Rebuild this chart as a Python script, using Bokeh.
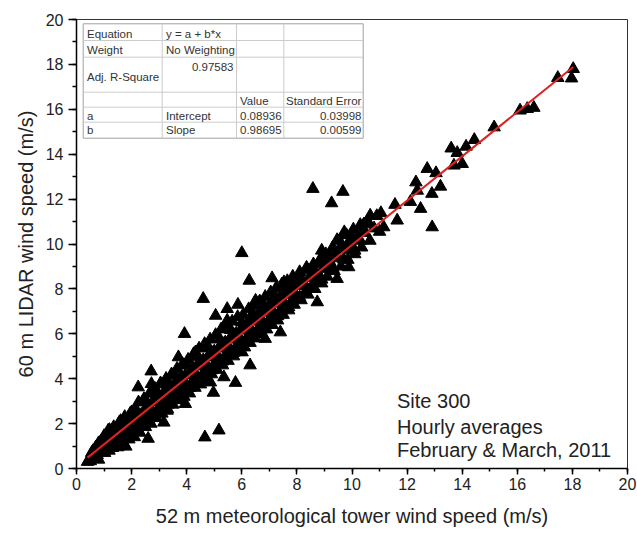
from bokeh.plotting import figure
from bokeh.models import Range1d, SingleIntervalTicker
from bokeh.core.properties import value
from bokeh.embed import file_html
from bokeh.resources import INLINE

# ---------------- data ----------------
met_speed = [
    0.40, 0.45, 0.55, 0.60, 0.70, 0.75, 0.80, 0.88, 0.92, 1.00, 1.02, 1.10, 1.15, 1.18, 1.25,
    1.30, 1.35, 1.40, 1.45, 1.50, 1.55, 1.60, 1.65, 1.70, 1.75, 1.80, 1.85, 1.90, 1.95, 2.00,
    2.05, 2.10, 2.15, 2.20, 2.25, 2.30, 2.35, 2.40, 2.45, 2.50, 2.55, 2.60, 2.65, 2.70, 2.75,
    2.80, 2.85, 2.90, 2.95, 3.00, 3.05, 3.10, 3.15, 3.20, 3.25, 3.30, 3.35, 3.40, 3.45, 3.50,
    3.55, 3.60, 3.65, 3.70, 3.75, 3.80, 3.85, 3.90, 3.95, 4.00,
    4.05, 4.10, 4.15, 4.20, 4.25, 4.30, 4.35, 4.40, 4.45, 4.50, 4.55, 4.60, 4.65, 4.70, 4.75,
    4.80, 4.85, 4.90, 4.95, 5.00, 5.05, 5.10, 5.15, 5.20, 5.25, 5.30, 5.35, 5.40, 5.45, 5.50,
    5.55, 5.60, 5.65, 5.70, 5.75, 5.80, 5.85, 5.90, 5.95, 6.00,
    6.05, 6.10, 6.15, 6.20, 6.25, 6.30, 6.35, 6.40, 6.45, 6.50, 6.55, 6.60, 6.65, 6.70, 6.75,
    6.80, 6.85, 6.90, 6.95, 7.00, 7.05, 7.10, 7.15, 7.20, 7.25, 7.30, 7.35, 7.40, 7.45, 7.50,
    7.55, 7.60, 7.65, 7.70, 7.75, 7.80, 7.85, 7.90, 7.95, 8.00,
    8.10, 8.15, 8.20, 8.30, 8.35, 8.40, 8.45, 8.55, 8.60, 8.65, 8.70, 8.80, 8.85, 8.90, 8.95,
    9.05, 9.10, 9.20, 9.30, 9.35, 9.45, 9.55, 9.60, 9.70, 9.80, 9.85, 9.95, 10.05, 10.10, 10.20,
    10.30, 10.35, 10.45, 10.60, 10.65, 10.80, 10.90, 11.00,
    0.5, 0.6, 0.7, 0.8, 0.9, 1.0, 1.1, 1.2, 1.3, 1.4, 1.5, 1.6, 1.7, 1.8, 1.9,
    2.0, 2.1, 2.2, 2.3, 2.4, 2.5, 2.6, 2.7, 2.8, 2.9, 3.0, 3.1, 3.2, 3.3, 3.4,
    3.5, 3.6, 3.7, 3.8, 3.9, 4.0, 4.1, 4.2, 4.3, 4.4, 4.5, 4.6, 4.7, 4.8, 4.9,
    5.0, 5.1, 5.2, 5.3, 5.4, 5.5, 5.6, 5.7, 5.8, 5.9, 6.0, 6.1, 6.2, 6.3, 6.4,
    6.5, 6.6, 6.7, 6.8, 6.9, 7.0, 7.1, 7.2, 7.3, 7.4, 7.5, 7.6, 7.7, 7.8, 7.9,
    8.0, 8.1, 8.2, 8.3, 8.4, 8.5, 8.6, 8.7, 8.8, 8.9, 9.0, 9.1, 9.2, 9.3, 9.4,
    9.5, 9.6, 9.7, 9.8, 9.9, 10.0, 10.1, 10.2, 10.3, 10.4,
    8.58, 9.67, 9.26, 12.91, 18.03, 17.97, 17.47, 16.60, 16.36, 16.10, 15.16, 14.44, 14.14, 13.60,
    13.82, 13.70, 14.00, 12.73, 13.05, 13.21, 12.90, 12.32, 12.37, 12.49, 12.12, 11.56, 11.05,
    10.66, 10.43, 11.64, 11.15, 9.72, 9.46, 8.90,
    6.00, 6.27, 7.10, 7.53, 7.89, 6.50, 5.86, 5.47, 5.05, 5.47, 4.60, 3.92, 3.70, 2.71, 2.72,
    2.24, 1.15, 4.32,
    8.74, 7.40, 6.85, 6.01, 6.30, 5.77, 5.35, 4.97, 4.86, 4.66, 5.17, 2.60, 1.79, 3.17, 3.95,
    9.88, 9.46, 3.29,
]
lidar_speed = [
    0.30, 0.38, 0.70, 0.45, 0.95, 0.60, 0.40, 1.20, 0.85, 1.45, 0.70, 1.05, 1.60, 0.80, 1.30,
    0.95, 1.85, 1.10, 1.55, 0.95, 2.05, 1.35, 1.80, 1.15, 2.30, 1.55, 2.00, 1.30, 2.45, 1.75,
    2.15, 1.40, 2.65, 1.85, 2.95, 1.60, 2.40, 2.05, 3.10, 1.85, 2.70, 2.25, 3.35, 2.00, 2.95,
    2.45, 3.55, 2.25, 3.15, 2.70, 3.80, 2.45, 3.35, 2.90, 4.00, 2.65, 3.55, 3.10, 4.20, 2.85,
    3.75, 3.30, 4.45, 3.05, 3.95, 3.50, 4.65, 3.20, 4.15, 3.70,
    4.85, 3.35, 4.30, 3.85, 5.10, 3.60, 4.55, 4.05, 5.35, 3.75, 4.75, 4.25, 5.55, 3.95, 4.95,
    4.45, 5.75, 4.20, 5.15, 4.65, 5.95, 4.40, 5.35, 4.85, 6.20, 4.60, 5.55, 5.05, 6.35, 4.80,
    5.75, 5.25, 6.55, 5.00, 5.95, 5.45, 6.75, 5.20, 6.15, 5.65,
    6.85, 5.40, 6.35, 5.85, 7.10, 5.60, 6.55, 6.05, 7.25, 5.80, 6.75, 6.25, 7.45, 6.00, 6.95,
    6.45, 7.65, 6.20, 7.15, 6.65, 7.85, 6.40, 7.35, 6.85, 8.05, 6.60, 7.55, 7.05, 8.20, 6.85,
    7.75, 7.25, 8.35, 7.05, 7.95, 7.45, 8.55, 7.30, 8.15, 7.65,
    8.75, 7.50, 8.30, 7.85, 8.95, 7.75, 8.50, 8.10, 9.10, 8.00, 8.70, 8.35, 9.30, 8.25, 8.90,
    9.55, 8.55, 9.20, 9.85, 8.80, 9.50, 10.15, 9.00, 9.75, 10.40, 9.30, 10.00, 10.65, 9.55, 10.25,
    10.85, 9.85, 10.50, 10.95, 10.15, 10.70, 11.25, 10.55,
    0.33, 0.78, 0.73, 1.13, 0.73, 1.28, 1.02, 1.72, 0.92, 1.67, 1.42, 2.12, 1.32, 2.07, 1.81,
    2.51, 1.66, 2.46, 2.21, 2.96, 2.06, 2.86, 2.60, 3.35, 2.45, 3.25, 3.00, 3.75, 2.85, 3.65,
    3.39, 4.14, 3.24, 4.04, 3.79, 4.59, 3.59, 4.43, 4.18, 4.98, 3.98, 4.83, 4.58, 5.38, 4.38,
    5.22, 4.97, 5.77, 4.77, 5.62, 5.37, 6.17, 5.16, 6.01, 5.76, 6.51, 5.61, 6.41, 6.16, 6.91,
    6.00, 6.80, 6.55, 7.30, 6.40, 7.20, 6.95, 7.70, 6.79, 7.59, 7.34, 8.09, 7.19, 7.99, 7.74,
    8.43, 7.63, 8.38, 8.13, 8.83, 8.03, 8.78, 8.53, 9.22, 8.42, 9.17, 8.92, 9.52, 8.92, 9.52,
    9.37, 9.91, 9.31, 9.91, 9.76, 10.31, 9.71, 10.31, 10.15, 10.70,
    12.46, 12.33, 11.82, 10.75, 17.80, 17.38, 17.40, 16.07, 16.02, 15.95, 15.20, 14.64, 14.34, 14.26,
    14.06, 13.50, 13.57, 13.35, 13.16, 12.56, 12.24, 12.75, 12.38, 11.57, 11.88, 11.75, 11.38,
    11.27, 10.88, 11.05, 10.75, 10.53, 10.18, 9.71,
    9.60, 8.37, 8.48, 8.30, 8.37, 7.48, 7.30, 7.11, 6.81, 6.59, 7.56, 6.00, 4.96, 4.33, 3.77,
    3.62, 1.69, 5.18,
    7.41, 6.07, 5.78, 5.18, 4.60, 3.82, 4.07, 3.38, 3.84, 1.39, 1.70, 1.33, 0.98, 2.05, 2.88,
    8.97, 8.45, 2.58,
]

fit_intercept = 0.08936
fit_slope = 0.98695

table_rows = [
    ["Equation", "y = a + b*x", "", ""],
    ["Weight", "No Weighting", "", ""],
    ["Adj. R-Square", "0.97583", "", ""],
    ["", "", "Value", "Standard Error"],
    ["a", "Intercept", "0.08936", "0.03998"],
    ["b", "Slope", "0.98695", "0.00599"],
]

note_lines = ["Site 300", "Hourly averages", "February & March, 2011"]

x_label = "52 m meteorological tower wind speed (m/s)"
y_label = "60 m LIDAR wind speed (m/s)"

# ---------------- layout helpers (screen px -> data) ----------------
FL, FR, FT, FB = 76, 627, 19, 468
def sx(px):
    return (px - FL) / (FR - FL) * 20.0
def sy(py):
    return (FB - py) / (FB - FT) * 20.0

FONT = "Liberation Sans"

p = figure(width=637, height=535, x_range=Range1d(0, 20), y_range=Range1d(0, 20),
           output_backend="svg", toolbar_location=None, title=None,
           min_border_left=FL, min_border_right=637 - FR, min_border_top=FT,
           min_border_bottom=535 - FB)
p.xgrid.visible = False
p.ygrid.visible = False
p.background_fill_color = "white"
p.border_fill_color = "white"
p.outline_line_color = "#333333"
p.outline_line_width = 1

for ax, tout, mout in ((p.xaxis[0], 6, 3), (p.yaxis[0], 8, 4)):
    ax.ticker = SingleIntervalTicker(interval=2, num_minor_ticks=2)
    ax.axis_line_color = "black"
    ax.axis_line_width = 1.5
    ax.major_tick_line_color = "black"
    ax.major_tick_line_width = 1.5
    ax.minor_tick_line_color = "black"
    ax.minor_tick_line_width = 1.5
    ax.major_tick_out = tout
    ax.major_tick_in = 0
    ax.minor_tick_out = mout
    ax.minor_tick_in = 0
    ax.major_label_text_font = FONT
    ax.major_label_text_font_size = "16px"
    ax.major_label_text_color = "#222222"
    ax.axis_label_text_font = FONT
    ax.axis_label_text_font_size = "20px"
    ax.axis_label_text_font_style = "normal"
    ax.axis_label_text_color = "#222222"

p.xaxis.axis_label = x_label
p.yaxis.axis_label = y_label
p.xaxis.major_label_standoff = 3
p.xaxis.axis_label_standoff = 12
p.yaxis.major_label_standoff = 5
p.yaxis.axis_label_standoff = 6

# scatter
p.scatter(met_speed, lidar_speed, marker="triangle", size=12.5,
          fill_color="black", line_color="black")

# fitted line
x0, x1 = min(met_speed), max(met_speed)
p.line([x0, x1], [fit_intercept + fit_slope * x0, fit_intercept + fit_slope * x1],
       line_color="#dd2222", line_width=2)

# results table
tx = [82.7, 161.7, 236.0, 283.3, 362.7]
ty = [23.3, 40.0, 56.7, 91.7, 106.7, 121.7, 137.7]
p.quad(left=[sx(tx[0])], right=[sx(tx[-1])], top=[sy(ty[0])], bottom=[sy(ty[-1])],
       fill_color="white", line_color="#a0a0a0", line_width=1)
vx = [sx(v) for v in tx[1:-1]]
p.segment(x0=vx, y0=[sy(ty[0])] * len(vx), x1=vx, y1=[sy(ty[-1])] * len(vx),
          line_color="#cccccc", line_width=1)
hy = [sy(v) for v in ty[1:-1]]
p.segment(x0=[sx(tx[0])] * len(hy), y0=hy, x1=[sx(tx[-1])] * len(hy), y1=hy,
          line_color="#cccccc", line_width=1)

row_center = [33.0, 49.0, 76.0, 100.0, 115.0, 129.5]
col_left = [86.5, 165.5, 239.5, 285.5]
cx, cy, ct, ca = [], [], [], []
for r, row in enumerate(table_rows):
    for c, txt in enumerate(row):
        if not txt:
            continue
        ypx = row_center[r]
        if r == 2 and c == 1:
            cx.append(sx(233)); cy.append(sy(66.5)); ca.append("right")
        elif c == 3 and r >= 4:
            cx.append(sx(361)); cy.append(sy(ypx)); ca.append("right")
        else:
            cx.append(sx(col_left[c])); cy.append(sy(ypx)); ca.append("left")
        ct.append(txt)
for align in ("left", "right"):
    idx = [i for i in range(len(ct)) if ca[i] == align]
    p.text(x=[cx[i] for i in idx], y=[cy[i] for i in idx], text=[ct[i] for i in idx],
           text_font=value(FONT), text_font_size="11.5px", text_color="#333333",
           text_align=align, text_baseline="middle")

# note text
note_y = [400, 426.5, 449.5]
p.text(x=[sx(396.5)] * 3, y=[sy(v) for v in note_y], text=note_lines,
       text_font=value(FONT), text_font_size="20px", text_color="#222222",
       text_align="left", text_baseline="middle")

open("out.html", "w").write(file_html(p, INLINE))
